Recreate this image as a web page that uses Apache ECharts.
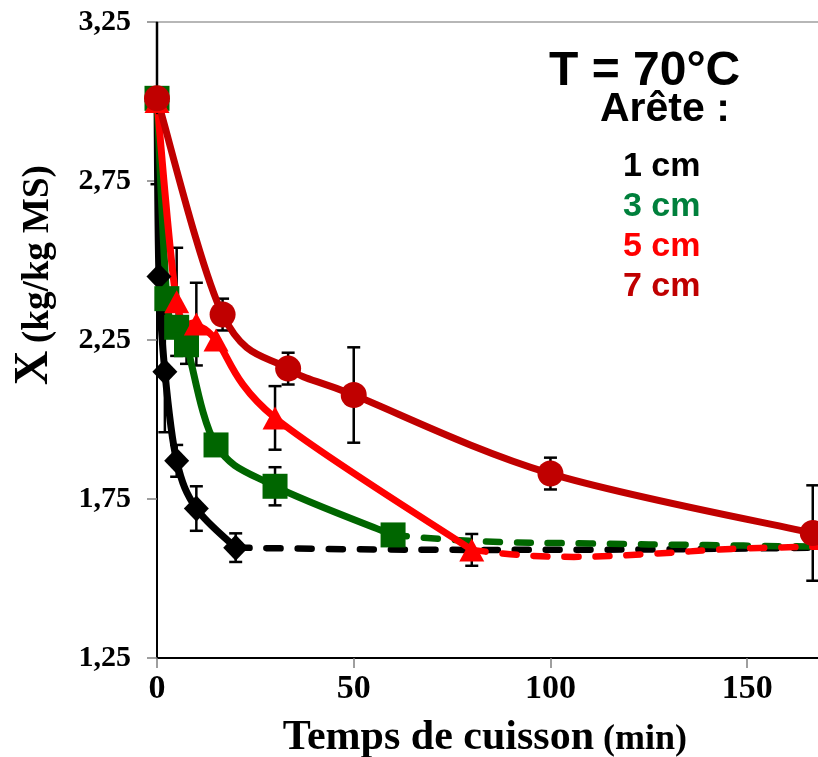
<!DOCTYPE html>
<html>
<head>
<meta charset="utf-8">
<script src="https://cdn.jsdelivr.net/npm/echarts@6/dist/echarts.min.js"></script>
<style>
  html, body { margin: 0; padding: 0; background: #fff; }
  #chart { width: 818px; height: 757px; }
</style>
</head>
<body>
<div id="chart"></div>
<script>
// temps de cuisson (min), teneur en eau X (kg/kg MS), écart-type
const t1 = [0, 0.5, 2, 5, 10, 20]
const x1 = [3.0, 2.45, 2.15, 1.87, 1.72, 1.597]
const e1 = [0.26, 0, 0.19, 0.05, 0.07, 0.045]

const t3 = [0, 2.5, 5, 7.5, 15, 30, 60]
const x3 = [3.01, 2.38, 2.29, 2.235, 1.92, 1.79, 1.637]
const e3 = [0, 0, 0, 0.06, 0, 0.06, 0]

const t5 = [0, 5, 10, 15, 30, 80]
const x5 = [3.0, 2.37, 2.30, 2.25, 2.005, 1.59]
const e5 = [0, 0.17, 0.13, 0, 0.10, 0.05]

const t7 = [0, 16.67, 33.33, 50, 100, 166.67]
const x7 = [3.01, 2.33, 2.16, 2.077, 1.83, 1.643]
const e7 = [0, 0.05, 0.05, 0.15, 0.05, 0.15]

// courbes prolongées (pointillés)
const t1d = [20, 50, 80, 120, 168]
const x1d = [1.597, 1.592, 1.59, 1.591, 1.597]
const t3d = [60, 80, 110, 140, 168]
const x3d = [1.637, 1.618, 1.61, 1.605, 1.60]
const t5d = [80, 92, 106, 125, 146, 168]
const x5d = [1.59, 1.574, 1.568, 1.577, 1.593, 1.60]

const yTicks = [1.25, 1.75, 2.25, 2.75, 3.25]
const xTicks = [0, 50, 100, 150]

const serif = "'Liberation Serif', 'Times New Roman', serif"
const sans = "'Liberation Sans', Arial, sans-serif"

function pairs (ts, xs) {
  return ts.map((t, i) => [t, xs[i]])
}
function triples (ts, xs, es) {
  return ts.map((t, i) => [t, xs[i], es[i]])
}

function errorBars (data) {
  return {
    type: 'custom',
    z: 1,
    data: data,
    renderItem: function (params, api) {
      const x = api.value(0)
      const y = api.value(1)
      const e = api.value(2)
      if (!e) return
      const hi = Math.min(y + e, 3.25)
      const top = api.coord([x, hi])
      const bot = api.coord([x, y - e])
      const st = { stroke: '#000', lineWidth: 2.5 }
      const kids = [
        { type: 'line', shape: { x1: top[0], y1: top[1], x2: bot[0], y2: bot[1] }, style: st },
        { type: 'line', shape: { x1: bot[0] - 6.5, y1: bot[1], x2: bot[0] + 6.5, y2: bot[1] }, style: st }
      ]
      if (y + e < 3.25) {
        kids.push({ type: 'line', shape: { x1: top[0] - 6.5, y1: top[1], x2: top[0] + 6.5, y2: top[1] }, style: st })
      }
      return { type: 'group', children: kids }
    }
  }
}

// courbe lissée façon Excel : un segment de Bézier par intervalle
function curve (ts, xs, color) {
  const n = ts.length
  return {
    type: 'custom',
    z: 3,
    data: ts.map((t, i) => [t, xs[i]]),
    renderItem: function (params, api) {
      const i = params.dataIndex
      if (i >= n - 1) return
      const P = k => {
        const j = Math.max(0, Math.min(n - 1, k))
        return api.coord([ts[j], xs[j]])
      }
      const p0 = P(i - 1)
      const p1 = P(i)
      const p2 = P(i + 1)
      const p3 = P(i + 2)
      return {
        type: 'bezierCurve',
        shape: {
          x1: p1[0], y1: p1[1], x2: p2[0], y2: p2[1],
          cpx1: p1[0] + (p2[0] - p0[0]) / 6, cpy1: p1[1] + (p2[1] - p0[1]) / 6,
          cpx2: p2[0] - (p3[0] - p1[0]) / 6, cpy2: p2[1] - (p3[1] - p1[1]) / 6
        },
        style: { stroke: color, fill: null, lineWidth: 7, lineCap: 'round' }
      }
    }
  }
}

function markers (data, color, symbol, size) {
  return {
    type: 'scatter',
    z: 4,
    data: data,
    symbol: symbol,
    symbolSize: size,
    itemStyle: { color: color, opacity: 1 },
    emphasis: { disabled: true }
  }
}

function dashed (data, color) {
  return {
    type: 'line',
    z: 2,
    data: data,
    smooth: 0.4,
    symbol: 'none',
    lineStyle: { color: color, width: 6.5, type: [14, 17], cap: 'round' }
  }
}

function label (text, x, y, size, color) {
  return {
    type: 'text', x: x, y: y,
    style: { text: text, font: 'bold ' + size + 'px ' + sans, fill: color, textAlign: 'left', textVerticalAlign: 'middle' }
  }
}

const chart = echarts.init(document.getElementById('chart'))

const option = {
  animation: false,
  backgroundColor: '#fff',
  grid: { left: 157, right: 0, top: 22, bottom: 99 },
  xAxis: [{
    type: 'value',
    min: 0,
    max: 168,
    position: 'bottom',
    axisLine: { lineStyle: { color: '#000', width: 2 } },
    axisTick: { customValues: xTicks, length: 10, lineStyle: { color: '#808080', width: 1.5 } },
    axisLabel: {
      customValues: xTicks,
      margin: 14,
      fontFamily: serif,
      fontWeight: 'bold',
      fontSize: 34,
      color: '#000'
    },
    splitLine: { show: false }
  }, {
    type: 'value',
    min: 0,
    max: 168,
    position: 'top',
    axisLine: { show: true, lineStyle: { color: '#a0a0a0', width: 1.5 } },
    axisTick: { show: false },
    axisLabel: { show: false },
    splitLine: { show: false }
  }],
  yAxis: {
    type: 'value',
    min: 1.25,
    max: 3.25,
    axisLine: { show: true, lineStyle: { color: '#000', width: 2 } },
    axisTick: { show: true, customValues: yTicks, length: 10, lineStyle: { color: '#808080', width: 1.5 } },
    axisLabel: {
      customValues: yTicks,
      margin: 26,
      fontFamily: serif,
      fontWeight: 'bold',
      fontSize: 30,
      color: '#000',
      formatter: v => v.toFixed(2).replace('.', ',')
    },
    splitLine: { show: false }
  },
  series: [
    errorBars(triples(t1, x1, e1)),
    errorBars(triples(t3, x3, e3)),
    errorBars(triples(t5, x5, e5)),
    errorBars(triples(t7, x7, e7)),
    dashed(pairs(t1d, x1d), '#000000'),
    dashed(pairs(t3d, x3d), '#006600'),
    dashed(pairs(t5d, x5d), '#ff0000'),
    curve(t1, x1, '#000000'),
    curve(t3, x3, '#006600'),
    curve(t5, x5, '#ff0000'),
    curve(t7, x7, '#c00000'),
    markers(pairs(t1, x1), '#000000', 'diamond', [25, 26]),
    markers(pairs(t3, x3), '#006600', 'rect', 25),
    markers(pairs(t5, x5), '#ff0000', 'triangle', [25, 23]),
    markers(pairs(t7, x7), '#c00000', 'circle', 26)
  ],
  graphic: [
    label('T = 70°C', 549, 72, 48, '#000'),
    label('Arête :', 600, 110, 41, '#000'),
    label('1 cm', 623, 167, 34, '#000000'),
    label('3 cm', 623, 207, 34, '#00803c'),
    label('5 cm', 623, 247, 34, '#ff0000'),
    label('7 cm', 623, 287, 34, '#c00000'),
    // titre axe x
    {
      type: 'text', x: 594, y: 738,
      style: { text: 'Temps de cuisson', font: 'bold 42px ' + serif, fill: '#000', textAlign: 'right', textVerticalAlign: 'middle' }
    },
    {
      type: 'text', x: 603, y: 740,
      style: { text: '(min)', font: 'bold 36px ' + serif, fill: '#000', textAlign: 'left', textVerticalAlign: 'middle' }
    },
    // titre axe y
    {
      type: 'text', x: 35, y: 368, rotation: Math.PI / 2,
      style: { text: 'X', font: 'bold 48px ' + serif, fill: '#000', textAlign: 'center', textVerticalAlign: 'middle' }
    },
    {
      type: 'text', x: 38, y: 343, rotation: Math.PI / 2,
      style: { text: '(kg/kg MS)', font: 'bold 37px ' + serif, fill: '#000', textAlign: 'left', textVerticalAlign: 'middle' }
    }
  ]
}

chart.setOption(option)
</script>
</body>
</html>
